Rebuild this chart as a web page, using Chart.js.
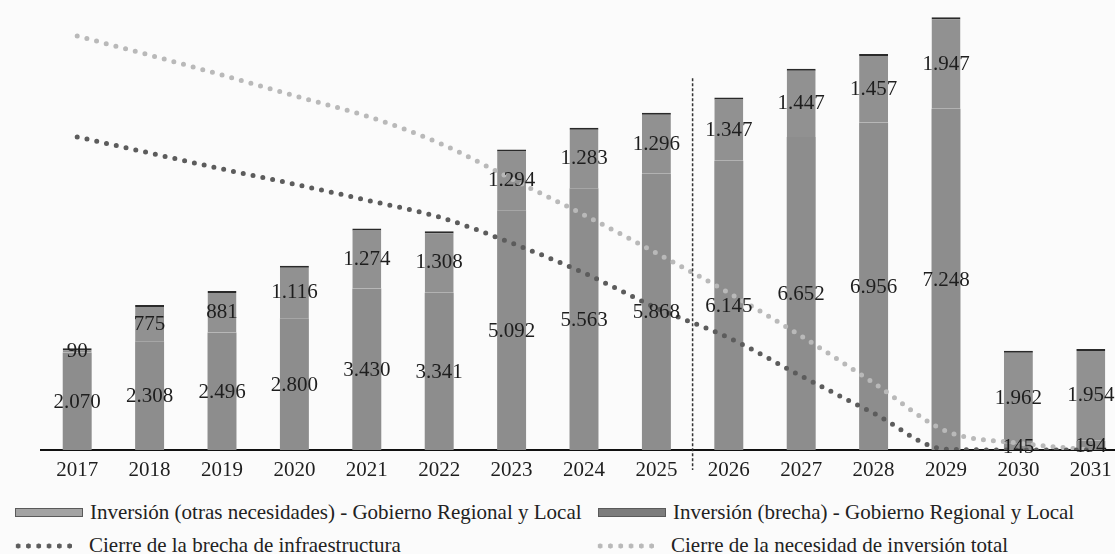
<!DOCTYPE html>
<html>
<head>
<meta charset="utf-8">
<script src="https://cdn.jsdelivr.net/npm/chart.js@4/dist/chart.umd.min.js"></script>
<style>
  body { margin: 0; background: #fbfbfb; overflow: hidden; }
  #wrap { position: relative; width: 1127px; height: 485px; }
  #legend { position: absolute; left: 0; top: 500px; width: 1115px; color: #222; font: 21px "Liberation Serif", "Times New Roman", serif; }
  .item { position: absolute; display: flex; align-items: center; white-space: nowrap; font-family: "Liberation Serif", "Times New Roman", serif; }
  .box { width: 66px; height: 7px; margin-right: 7px; }
  .dots { width: 62px; height: 10px; margin-right: 14px; }
</style>
</head>
<body>
<div id="wrap"><canvas id="chart"></canvas></div>
<div id="legend"></div>
<script>
// values
const years = ["2017", "2018", "2019", "2020", "2021", "2022", "2023", "2024", "2025",
  "2026", "2027", "2028", "2029", "2030", "2031"];
const brecha = [2070, 2308, 2496, 2800, 3430, 3341, 5092, 5563, 5868, 6145, 6652, 6956, 7248, 145, 194];
const otras = [90, 775, 881, 1116, 1274, 1308, 1294, 1283, 1296, 1347, 1447, 1457, 1947, 1962, 1954];
// remaining gap lines (no axis in the picture, estimated as % of the plot height)
const cierreBrecha = [72.3, 68.6, 64.9, 61.4, 57.7, 53.8, 47.8, 40.9, 32.8, 25.9, 17.1, 8.5, 0.2, 0, 0];
const cierreTotal = [95.6, 91.2, 86.6, 81.8, 77.1, 70.9, 62.6, 54.3, 45.5, 36.3, 26.3, 15.5, 4.4, 1.6, 0];

const fmt = (v) => String(v).replace(/\B(?=(\d{3})+(?!\d))/g, ".");

// numbers in the middle of each bar segment
const segmentLabels = {
  id: "segmentLabels",
  afterDatasetsDraw(chart) {
    const ctx = chart.ctx;
    ctx.save();
    ctx.font = "21px 'Liberation Serif'";
    ctx.fillStyle = "#1e1e1e";
    ctx.textAlign = "center";
    ctx.textBaseline = "middle";
    chart.data.datasets.forEach((ds, i) => {
      if (ds.type !== "bar") return;
      chart.getDatasetMeta(i).data.forEach((bar, j) => {
        const p = bar.getProps(["x", "y", "base"], true);
        ctx.fillText(fmt(ds.data[j]), p.x, (p.y + p.base) / 2 + 1);
      });
    });
    ctx.restore();
  },
};

// dashed separator between 2025 and 2026
const separator = {
  id: "separator",
  afterDraw(chart) {
    const x = chart.scales.x;
    const y = chart.scales.y;
    const px = (x.getPixelForValue(8) + x.getPixelForValue(9)) / 2;
    const ctx = chart.ctx;
    ctx.save();
    ctx.strokeStyle = "#333";
    ctx.lineWidth = 1.5;
    ctx.setLineDash([3, 2]);
    ctx.beginPath();
    ctx.moveTo(px, y.getPixelForValue(7900));
    ctx.lineTo(px, y.bottom + 20);
    ctx.stroke();
    ctx.restore();
  },
};

const chart = new Chart(document.getElementById("chart"), {
  data: {
    labels: years,
    datasets: [
      {
        type: "line",
        label: "Cierre de la brecha de infraestructura",
        data: cierreBrecha,
        yAxisID: "y1",
        borderColor: "#5c5c5c",
        borderWidth: 5,
        borderDash: [0, 10],
        borderCapStyle: "round",
        pointRadius: 0,
        cubicInterpolationMode: "monotone",
        order: 0,
      },
      {
        type: "line",
        label: "Cierre de la necesidad de inversión total",
        data: cierreTotal,
        yAxisID: "y1",
        borderColor: "#b9b9b9",
        borderWidth: 5,
        borderDash: [0, 10],
        borderCapStyle: "round",
        pointRadius: 0,
        cubicInterpolationMode: "monotone",
        order: 0,
      },
      {
        type: "bar",
        label: "Inversión (brecha) - Gobierno Regional y Local",
        data: brecha,
        backgroundColor: "#8d8d8d",
        order: 1,
      },
      {
        type: "bar",
        label: "Inversión (otras necesidades) - Gobierno Regional y Local",
        data: otras,
        backgroundColor: "#919191",
        borderColor: "#2a2a2a",
        borderWidth: { top: 2, left: 0, right: 0, bottom: 0 },
        borderSkipped: false,
        order: 1,
      },
    ],
  },
  options: {
    responsive: true,
    maintainAspectRatio: false,
    animation: false,
    barPercentage: 0.4,
    categoryPercentage: 1,
    layout: { padding: { left: 41, top: 17, right: 0, bottom: 0 } },
    plugins: { legend: { display: false }, tooltip: { enabled: false } },
    scales: {
      x: {
        stacked: true,
        grid: { display: false, drawTicks: false },
        border: { display: true, color: "#111", width: 2 },
        ticks: { color: "#1e1e1e", padding: 8, font: { family: "Liberation Serif", size: 21 } },
        afterFit(scale) { scale.height = 35; },
      },
      y: { stacked: true, display: false, min: 0, max: 9200 },
      y1: { display: false, min: 0, max: 100 },
    },
  },
  plugins: [segmentLabels, separator],
});

// legend laid out in two columns like the original
const legendSpots = [
  { ds: 3, left: 15, top: 0, color: "#a3a3a3" },
  { ds: 2, left: 598, top: 0, color: "#7c7c7c" },
  { ds: 0, left: 13, top: 33 },
  { ds: 1, left: 595, top: 33 },
];
const legendEl = document.getElementById("legend");
legendSpots.forEach((spot) => {
  const ds = chart.data.datasets[spot.ds];
  const item = document.createElement("div");
  item.className = "item";
  item.style.left = spot.left + "px";
  item.style.top = spot.top + "px";
  const mark = document.createElement("span");
  if (ds.type === "bar") {
    mark.className = "box";
    mark.style.background = spot.color;
    mark.style.border = "1px solid #5a5a5a";
  } else {
    mark.className = "dots";
    mark.style.background = `radial-gradient(circle, ${ds.borderColor} 2.3px, transparent 2.8px) 0 0 / 10.3px 10px repeat-x`;
  }
  const text = document.createElement("span");
  text.textContent = ds.label;
  item.appendChild(mark);
  item.appendChild(text);
  legendEl.appendChild(item);
});
</script>
</body>
</html>
